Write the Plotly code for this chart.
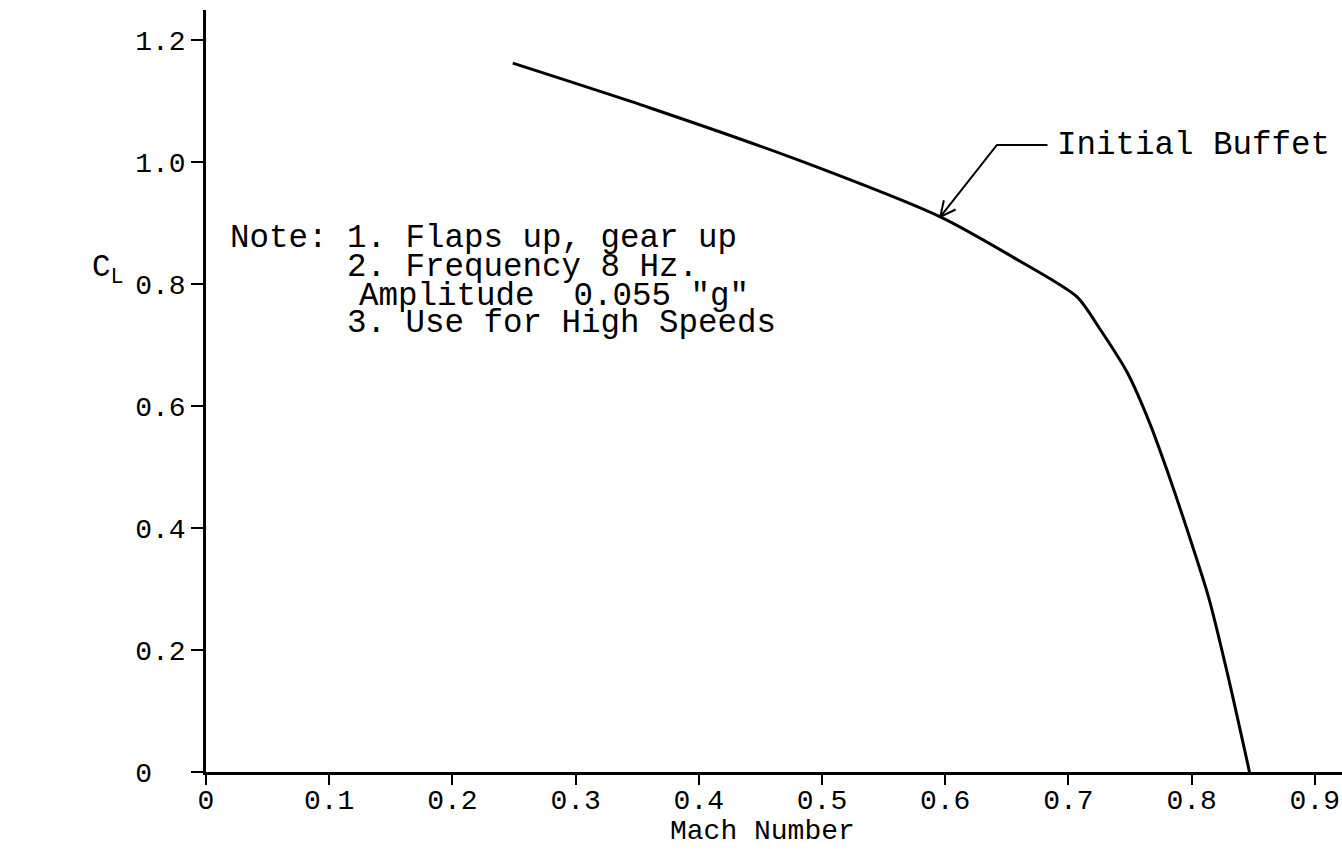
import math
import plotly.graph_objects as go

# Initial buffet boundary
mach = [0.249, 0.360, 0.481, 0.596, 0.655, 0.707, 0.726, 0.748, 0.766, 0.780, 0.793, 0.814, 0.829, 0.847]
cl = [1.162, 1.089, 1.003, 0.910, 0.844, 0.779, 0.725, 0.654, 0.572, 0.495, 0.418, 0.285, 0.162, 0.0]

x_tickvals = [0, 0.1, 0.2, 0.3, 0.4, 0.5, 0.6, 0.7, 0.8, 0.9]
x_ticktext = ["0", "0.1", "0.2", "0.3", "0.4", "0.5", "0.6", "0.7", "0.8", "0.9"]
y_tickvals = [0, 0.2, 0.4, 0.6, 0.8, 1.0, 1.2]
y_ticktext = ["0\u00a0\u00a0", "0.2", "0.4", "0.6", "0.8", "1.0", "1.2"]

note_lines = ["Note: 1. Flaps up, gear up",
              "2. Frequency 8 Hz.",
              "Amplitude  0.055 \"g\"",
              "3. Use for High Speeds"]
curve_label = "Initial Buffet"
# leader: label end -> bend -> curve point near M = 0.6
leader_mach = [0.683, 0.642, 0.596]
leader_cl = [1.028, 1.028, 0.910]

FONT = "Liberation Mono, Courier New, monospace"
FS = 32.5
FS_TICK = 28

W, H = 1342, 849
L, R, T, B = 206, 0, 10, 77
XS = 1232.0   # px per Mach unit
YS = 610.0    # px per CL unit


def px_x(px):
    return (px - L) / XS


def px_y(py):
    return (H - B - py) / YS


fig = go.Figure()
fig.add_trace(go.Scatter(x=mach, y=cl, mode="lines",
                         line=dict(color="black", width=3, shape="spline", smoothing=0.7),
                         showlegend=False, hoverinfo="skip"))

# leader line + open arrowhead (barbs computed in screen space)
dx = (leader_mach[1] - leader_mach[2]) * XS
dy = (leader_cl[1] - leader_cl[2]) * YS
ln = math.hypot(dx, dy)
ux, uy = dx / ln, dy / ln
barb_len, barb_ang = 17.0, math.radians(26)
barbs = []
for s in (1, -1):
    c, si = math.cos(s * barb_ang), math.sin(s * barb_ang)
    bx = ux * c - uy * si
    by = ux * si + uy * c
    barbs.append((leader_mach[2] + barb_len * bx / XS, leader_cl[2] + barb_len * by / YS))

lx = leader_mach + [barbs[0][0], None, leader_mach[2], barbs[1][0]]
ly = leader_cl + [barbs[0][1], None, leader_cl[2], barbs[1][1]]
fig.add_trace(go.Scatter(x=lx, y=ly, mode="lines", line=dict(color="black", width=2),
                         showlegend=False, hoverinfo="skip"))

fig.add_annotation(x=px_x(1055), y=px_y(145), xref="x", yref="y", text=curve_label,
                   showarrow=False, xanchor="left", yanchor="middle",
                   font=dict(family=FONT, size=FS, color="black"))

adv = 0.6 * FS
note_pos = [(228, 238), (228 + 6 * adv, 267), (228 + 6.6 * adv, 296), (228 + 6 * adv, 323)]
for (nx, ny), txt in zip(note_pos, note_lines):
    fig.add_annotation(x=px_x(nx), y=px_y(ny), xref="x", yref="y", text=txt, showarrow=False,
                       xanchor="left", yanchor="middle",
                       font=dict(family=FONT, size=FS, color="black"))

# axis titles
fig.add_annotation(x=(108 - L) / (W - L - R), y=(H - B - 270) / (H - T - B),
                   xref="paper", yref="paper", text="C<sub>L</sub>",
                   showarrow=False, xanchor="center", yanchor="middle",
                   font=dict(family=FONT, size=31, color="black"))
fig.add_annotation(x=px_x(762), y=-(831 - (H - B)) / (H - T - B), xref="x", yref="paper",
                   text="Mach Number", showarrow=False, xanchor="center", yanchor="middle",
                   font=dict(family=FONT, size=FS_TICK, color="black"))

fig.update_layout(
    width=W, height=H,
    margin=dict(l=L, r=R, t=T, b=B),
    paper_bgcolor="white", plot_bgcolor="white",
    font=dict(family=FONT, size=FS_TICK, color="black"),
    showlegend=False,
)
fig.update_xaxes(range=[0, (W - L - R) / XS], tickvals=x_tickvals, ticktext=x_ticktext,
                 showline=True, linecolor="black", linewidth=2.5, showgrid=False,
                 zeroline=False, ticks="outside", ticklen=10, tickwidth=2,
                 tickcolor="black", tickfont=dict(family=FONT, size=FS_TICK),
                 ticklabelstandoff=-9)
fig.update_yaxes(range=[0, (H - T - B) / YS], tickvals=y_tickvals, ticktext=y_ticktext,
                 showline=True, linecolor="black", linewidth=2.5, showgrid=False,
                 zeroline=False, ticks="outside", ticklen=12, tickwidth=2,
                 tickcolor="black", tickfont=dict(family=FONT, size=FS_TICK))

fig.write_html("out.html", config={"displayModeBar": False},
               post_script="document.body.style.margin='0px';document.body.style.overflow='hidden';")
